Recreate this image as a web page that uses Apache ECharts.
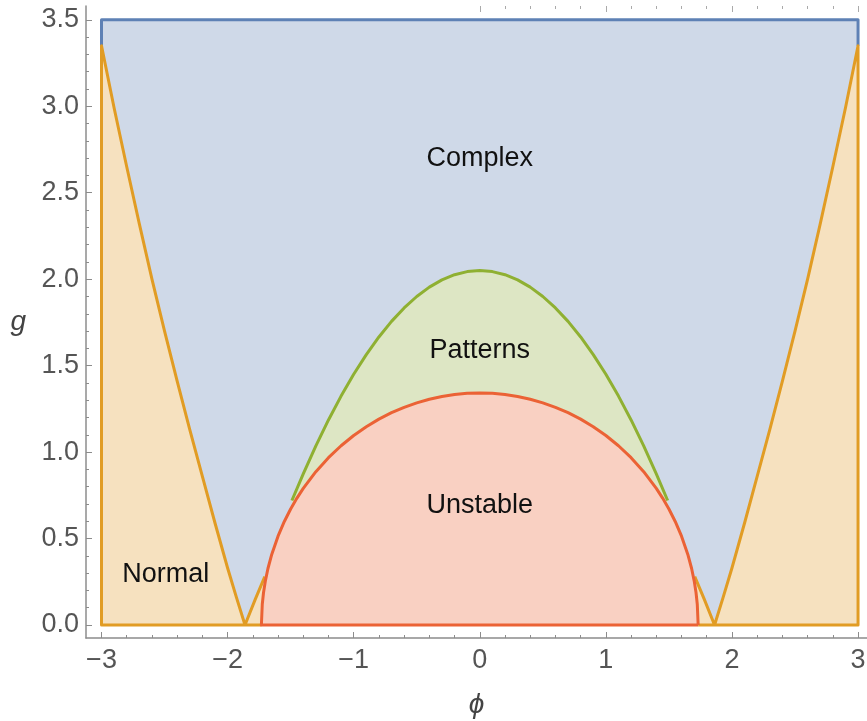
<!DOCTYPE html>
<html>
<head>
<meta charset="utf-8">
<script src="https://cdn.jsdelivr.net/npm/echarts@6/dist/echarts.min.js"></script>
<style>
html, body { margin: 0; padding: 0; background: #fff; }
#main { width: 867px; height: 721px; }
</style>
</head>
<body>
<div id="main"></div>
<script>
// region boundaries, as (phi, g) pairs
var complexPhi = [-3, -3, 3, 3];
var complexG = [3.35, 3.5, 3.5, 3.35];

var normalLeftPhi = [-1.732, -3, -3, -2.9, -2.8, -2.7, -2.6, -2.5, -2.4, -2.3, -2.2, -2.1, -2.0, -1.93, -1.862, -1.78, -1.705];
var normalLeftG = [0, 0, 3.35, 2.99, 2.65, 2.32, 2.0, 1.70, 1.41, 1.13, 0.86, 0.59, 0.33, 0.16, 0, 0.15, 0.28];
var normalRightPhi = [1.732, 3, 3, 2.9, 2.8, 2.7, 2.6, 2.5, 2.4, 2.3, 2.2, 2.1, 2.0, 1.93, 1.862, 1.78, 1.705];
var normalRightG = [0, 0, 3.35, 2.99, 2.65, 2.32, 2.0, 1.70, 1.41, 1.13, 0.86, 0.59, 0.33, 0.16, 0, 0.15, 0.28];

var patternsPhi = [-1.49, -1.4, -1.3, -1.2, -1.1, -1.0, -0.9, -0.8, -0.7, -0.6, -0.5, -0.4, -0.3, -0.2, -0.1, 0,
  0.1, 0.2, 0.3, 0.4, 0.5, 0.6, 0.7, 0.8, 0.9, 1.0, 1.1, 1.2, 1.3, 1.4, 1.49];
var patternsG = [0.72, 0.874, 1.036, 1.186, 1.324, 1.45, 1.564, 1.666, 1.756, 1.834, 1.90, 1.954, 1.996, 2.026, 2.044, 2.05,
  2.044, 2.026, 1.996, 1.954, 1.90, 1.834, 1.756, 1.666, 1.564, 1.45, 1.324, 1.186, 1.036, 0.874, 0.72];

var unstablePhi = [1.732, -1.732, -1.725, -1.715, -1.7, -1.68, -1.65, -1.6, -1.55, -1.5, -1.45, -1.4, -1.3, -1.2, -1.1,
  -1.0, -0.9, -0.8, -0.7, -0.6, -0.5, -0.4, -0.3, -0.2, -0.1, 0,
  0.1, 0.2, 0.3, 0.4, 0.5, 0.6, 0.7, 0.8, 0.9, 1.0,
  1.1, 1.2, 1.3, 1.4, 1.45, 1.5, 1.55, 1.6, 1.65, 1.68, 1.7, 1.715, 1.725, 1.732];
var unstableG = [0, 0, 0.12, 0.188, 0.257, 0.327, 0.408, 0.514, 0.599, 0.671, 0.734, 0.79, 0.887, 0.968, 1.037,
  1.096, 1.147, 1.191, 1.228, 1.259, 1.285, 1.306, 1.322, 1.333, 1.34, 1.342,
  1.34, 1.333, 1.322, 1.306, 1.285, 1.259, 1.228, 1.191, 1.147, 1.096,
  1.037, 0.968, 0.887, 0.79, 0.734, 0.671, 0.599, 0.514, 0.408, 0.327, 0.257, 0.188, 0.12, 0];

var regionNames = ['Complex', 'Patterns', 'Unstable', 'Normal'];
var regionPhi = [0, 0, 0, -2.49];
var regionG = [2.70, 1.59, 0.69, 0.29];

var xMajor = [-3, -2, -1, 0, 1, 2, 3];
var xMinor = [-3, -2.8, -2.6, -2.4, -2.2, -2, -1.8, -1.6, -1.4, -1.2, -1, -0.8, -0.6, -0.4, -0.2, 0,
  0.2, 0.4, 0.6, 0.8, 1, 1.2, 1.4, 1.6, 1.8, 2, 2.2, 2.4, 2.6, 2.8, 3];
var topMajor = [0, 1, 2, 3];
var topMinor = [0.2, 0.4, 0.6, 0.8, 1.2, 1.4, 1.6, 1.8, 2.2, 2.4, 2.6, 2.8];
var yMajor = [0, 0.5, 1, 1.5, 2, 2.5, 3, 3.5];
var yMinor = [0, 0.1, 0.2, 0.3, 0.4, 0.5, 0.6, 0.7, 0.8, 0.9, 1, 1.1, 1.2, 1.3, 1.4, 1.5, 1.6, 1.7, 1.8, 1.9,
  2, 2.1, 2.2, 2.3, 2.4, 2.5, 2.6, 2.7, 2.8, 2.9, 3, 3.1, 3.2, 3.3, 3.4, 3.5];

function pairs(xs, ys) {
  return xs.map(function (x, i) { return [x, ys[i]]; });
}

function region(name, xs, ys, line, fill) {
  return {
    name: name,
    type: 'line',
    data: pairs(xs, ys),
    symbol: 'none',
    smooth: false,
    lineStyle: { color: line, width: 3, join: 'round' },
    areaStyle: { color: fill, opacity: 1 },
    silent: true
  };
}

var chartDom = document.getElementById('main');
var myChart = echarts.init(chartDom);

var axisGray = '#8c8c8c';
var font = 'Liberation Sans, Arial, sans-serif';
var xMin = -3.123, xMax = 3.071, yMin = -0.075, yMax = 3.58;

function tickAxis(pos, min, max, values, len, color) {
  return {
    type: 'value',
    position: pos,
    min: min,
    max: max,
    axisLine: { show: false, onZero: false },
    axisTick: { inside: true, length: len, customValues: values, lineStyle: { color: color } },
    axisLabel: { show: false },
    splitLine: { show: false }
  };
}

var option = {
  animation: false,
  grid: { left: 86, right: 0, top: 6, bottom: 83, outerBoundsMode: 'none', containLabel: false },
  xAxis: [{
    type: 'value',
    position: 'bottom',
    min: xMin,
    max: xMax,
    name: '\u03d5',
    nameLocation: 'middle',
    nameGap: 53,
    nameTextStyle: { fontFamily: font, fontStyle: 'italic', fontSize: 28, color: '#444' },
    axisLine: { onZero: false, lineStyle: { color: axisGray, width: 1.5 } },
    axisTick: { inside: true, length: 6, customValues: xMajor, lineStyle: { color: axisGray } },
    splitLine: { show: false },
    axisLabel: {
      customValues: xMajor,
      margin: 9,
      fontFamily: font,
      fontSize: 27,
      color: '#555',
      formatter: function (v) {
        return v < 0 ? '\u2212' + Math.abs(v) : String(v);
      }
    }
  },
  tickAxis('bottom', xMin, xMax, xMinor, 3, axisGray),
  tickAxis('top', xMin, xMax, topMajor, 6, '#aaa'),
  tickAxis('top', xMin, xMax, topMinor, 3, '#aaa')],
  yAxis: [{
    type: 'value',
    position: 'left',
    min: yMin,
    max: yMax,
    name: 'g',
    nameLocation: 'middle',
    nameGap: 60,
    nameRotate: 0,
    nameTextStyle: { fontFamily: font, fontStyle: 'italic', fontSize: 28, color: '#444' },
    axisLine: { onZero: false, lineStyle: { color: axisGray, width: 1.5 } },
    axisTick: { inside: true, length: 6, customValues: yMajor, lineStyle: { color: axisGray } },
    splitLine: { show: false },
    axisLabel: {
      customValues: yMajor,
      margin: 7,
      fontFamily: font,
      fontSize: 27,
      color: '#555',
      formatter: function (v) { return v.toFixed(1); }
    }
  },
  tickAxis('left', yMin, yMax, yMinor, 3, axisGray)],
  series: [
    region('Complex', complexPhi, complexG, '#5e81b5', '#cfd9e8'),
    region('NormalLeft', normalLeftPhi, normalLeftG, '#e19c24', '#f6e1bf'),
    region('NormalRight', normalRightPhi, normalRightG, '#e19c24', '#f6e1bf'),
    region('Patterns', patternsPhi, patternsG, '#8fb032', '#dde6c4'),
    region('Unstable', unstablePhi, unstableG, '#eb6235', '#f9d0c2'),
    {
      name: 'labels',
      type: 'custom',
      z: 10,
      silent: true,
      data: pairs(regionPhi, regionG),
      renderItem: function (params, api) {
        var p = api.coord([api.value(0), api.value(1)]);
        return {
          type: 'text',
          x: p[0],
          y: p[1],
          style: {
            text: regionNames[params.dataIndex],
            fill: '#111',
            font: '27px ' + font,
            align: 'center',
            verticalAlign: 'middle'
          }
        };
      }
    }
  ]
};

option && myChart.setOption(option);
window.addEventListener('resize', function () { myChart.resize(); });
</script>
</body>
</html>
